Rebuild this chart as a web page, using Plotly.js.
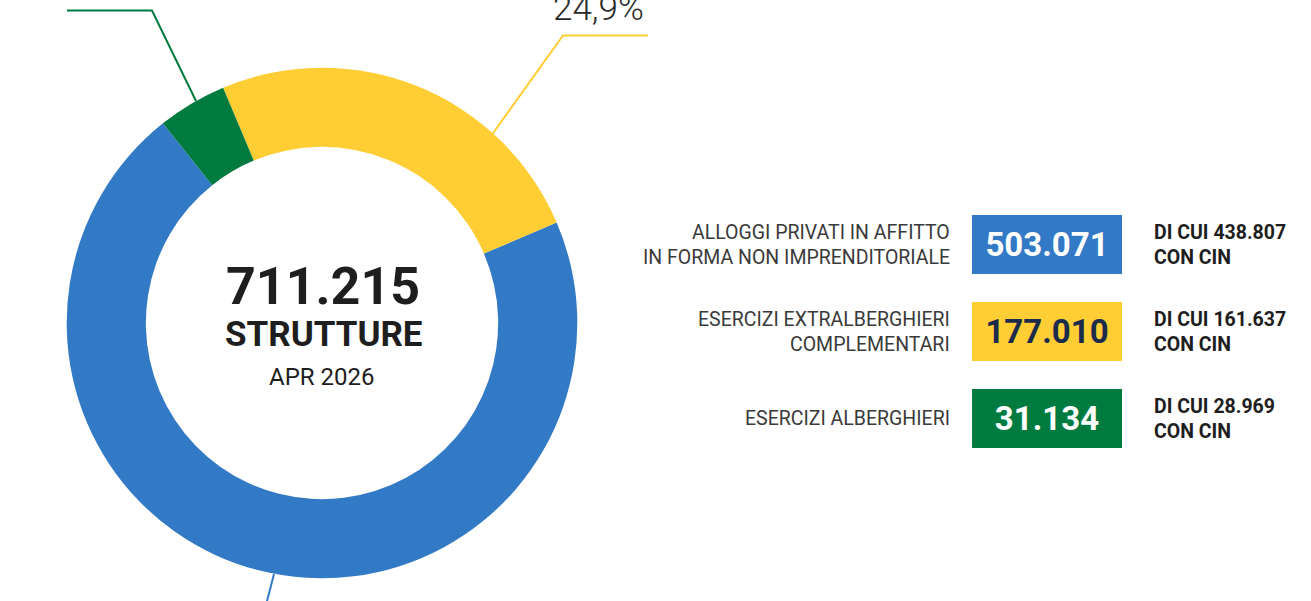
<!DOCTYPE html>
<html>
<head>
<meta charset="utf-8">
<script src="https://cdn.plot.ly/plotly-3.0.1.min.js"></script>
<style>html,body{margin:0;padding:0;background:#fff;}#chart{width:1311px;height:601px;}</style>
</head>
<body>
<div id="chart"></div>
<script>
// ---- data ----
const categories = ['ALLOGGI PRIVATI IN AFFITTO IN FORMA NON IMPRENDITORIALE', 'ESERCIZI EXTRALBERGHIERI COMPLEMENTARI', 'ESERCIZI ALBERGHIERI'];
const labelLines = [['ALLOGGI PRIVATI IN AFFITTO', 'IN FORMA NON IMPRENDITORIALE'], ['ESERCIZI EXTRALBERGHIERI', 'COMPLEMENTARI'], ['ESERCIZI ALBERGHIERI']];
const values = [503071, 177010, 31134];
const conCin = [438807, 161637, 28969];
const period = 'APR 2026';
const unitLabel = 'STRUTTURE';

// ---- style ----
const colors = ['#3279C6', '#FFCD34', '#007B3F'];
const boxTextColors = ['#FFFFFF', '#1B2B4B', '#FFFFFF'];
const W = 1311, H = 601;
const px = x => x / W;
const py = y => 1 - y / H;
const FONT = 'Roboto, "Open Sans", sans-serif';

const fmt = n => String(n).replace(/\B(?=(\d{3})+(?!\d))/g, '.');
const total = values.reduce((a, b) => a + b, 0);
const pct = values.map(v => (v / total * 100).toFixed(1).replace('.', ','));

// pie geometry
const cx = 322, cy = 323, R = 255.3;

const trace = {
  type: 'pie',
  labels: categories,
  values: values,
  sort: false,
  direction: 'counterclockwise',
  rotation: 66.8,
  hole: 0.69,
  marker: {colors: colors, line: {width: 0}},
  textinfo: 'none',
  hoverinfo: 'label+value+percent',
  showlegend: false,
  domain: {x: [px(cx - R), px(cx + R)], y: [py(cy + R), py(cy - R)]}
};

const annotations = [];
// centre text
annotations.push({text: fmt(total), x: px(cx + 1), y: py(286), xref: 'paper', yref: 'paper', showarrow: false,
  xanchor: 'center', yanchor: 'middle', font: {family: FONT, size: 52, weight: 700, color: '#1E1E1E'}});
annotations.push({text: unitLabel, x: px(cx + 2), y: py(335), xref: 'paper', yref: 'paper', showarrow: false,
  xanchor: 'center', yanchor: 'middle', font: {family: FONT, size: 35, weight: 700, color: '#1E1E1E'}});
annotations.push({text: period, x: px(cx), y: py(377), xref: 'paper', yref: 'paper', showarrow: false,
  xanchor: 'center', yanchor: 'middle', font: {family: FONT, size: 24, weight: 400, color: '#1E1E1E'}});

// percentage label of yellow slice (others fall outside the frame)
annotations.push({text: pct[1] + '%', x: px(646), y: py(9), xref: 'paper', yref: 'paper', showarrow: false,
  xanchor: 'right', yanchor: 'middle', font: {family: FONT, size: 35, weight: 300, color: '#2A2A2A'}});

// right-side table
const rowY = [244.5, 331.5, 418.5];
const lineGap = 25;
values.forEach((v, i) => {
  const lines = labelLines[i];
  lines.forEach((ln, j) => {
    const off = (j - (lines.length - 1) / 2) * lineGap;
    annotations.push({text: ln, x: px(952), y: py(rowY[i] + off), xref: 'paper', yref: 'paper', showarrow: false,
      xanchor: 'right', yanchor: 'middle', font: {family: FONT, size: 19.5, weight: 400, color: '#3A3A3A'}});
  });
  annotations.push({text: fmt(v), x: px(972), y: py(rowY[i]), xref: 'paper', yref: 'paper', showarrow: false,
    xanchor: 'left', yanchor: 'middle', width: 150, height: 59, bgcolor: colors[i], borderpad: 0, borderwidth: 0,
    align: 'center', valign: 'middle',
    font: {family: FONT, size: 33, weight: 700, color: boxTextColors[i]}});
  const right = ['DI CUI ' + fmt(conCin[i]), 'CON CIN'];
  right.forEach((ln, j) => {
    const off = (j - 0.5) * lineGap;
    annotations.push({text: ln, x: px(1152), y: py(rowY[i] + off), xref: 'paper', yref: 'paper', showarrow: false,
      xanchor: 'left', yanchor: 'middle', font: {family: FONT, size: 19.5, weight: 700, color: '#1E1E1E'}});
  });
});

// leader lines (decorative)
const path = pts => pts.map((p, k) => (k ? 'L' : 'M') + px(p[0]) + ',' + py(p[1])).join(' ');
const shapes = [
  {type: 'path', xref: 'paper', yref: 'paper', path: path([[67, 10.5], [152, 10.5], [196, 101]]), line: {color: colors[2], width: 2}},
  {type: 'path', xref: 'paper', yref: 'paper', path: path([[491, 136], [563, 35.5], [648, 35.5]]), line: {color: colors[1], width: 2}},
  {type: 'path', xref: 'paper', yref: 'paper', path: path([[274, 574], [266, 605]]), line: {color: colors[0], width: 2}}
];

const layout = {
  width: W, height: H,
  margin: {l: 0, r: 0, t: 0, b: 0},
  paper_bgcolor: '#FFFFFF',
  plot_bgcolor: '#FFFFFF',
  showlegend: false,
  annotations: annotations,
  shapes: shapes
};

Plotly.newPlot('chart', [trace], layout, {displayModeBar: false, staticPlot: true});
</script>
</body>
</html>
